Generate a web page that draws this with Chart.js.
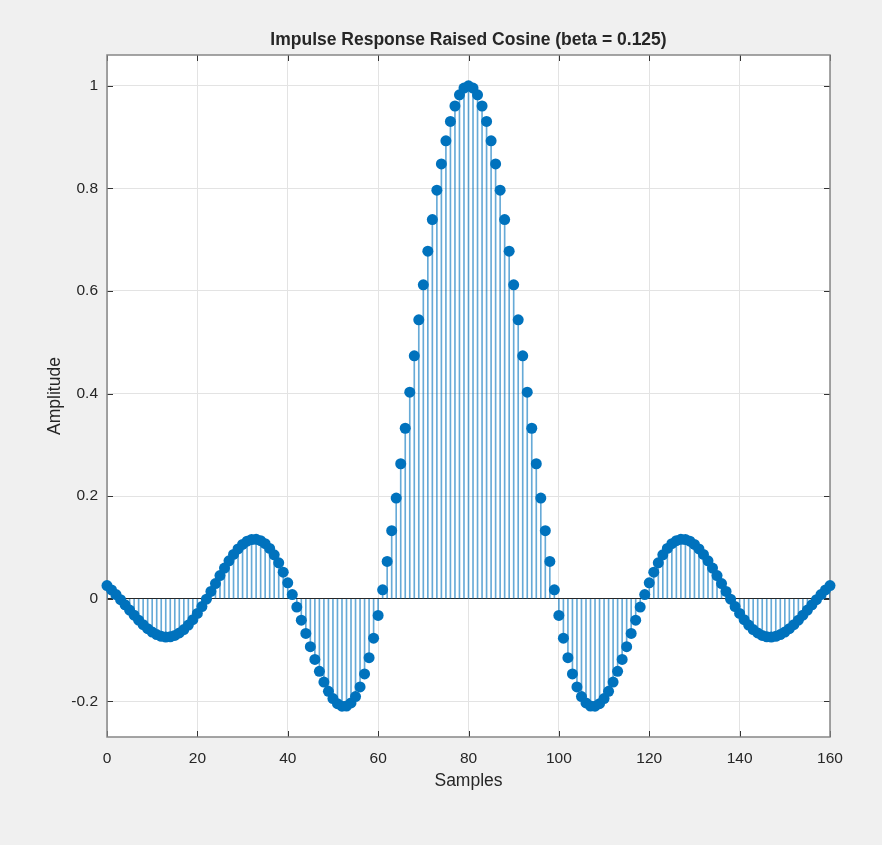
<!DOCTYPE html>
<html>
<head>
<meta charset="utf-8">
<title>Impulse Response Raised Cosine</title>
<script src="https://cdn.jsdelivr.net/npm/chart.js@4.4.1/dist/chart.umd.min.js"></script>
<style>
    html, body { margin: 0; padding: 0; background: #f0f0f0; }
    #wrap { width: 882px; height: 845px; }
</style>
</head>
<body>
<div id="wrap"><canvas id="myChart" width="882" height="845"></canvas></div>
<script>
// sample index (x) and amplitude
let samples = [
    0, 1, 2, 3, 4, 5, 6, 7, 8, 9, 10, 11, 12, 13, 14, 15, 16, 17, 18, 19,
    20, 21, 22, 23, 24, 25, 26, 27, 28, 29, 30, 31, 32, 33, 34, 35, 36, 37, 38, 39,
    40, 41, 42, 43, 44, 45, 46, 47, 48, 49, 50, 51, 52, 53, 54, 55, 56, 57, 58, 59,
    60, 61, 62, 63, 64, 65, 66, 67, 68, 69, 70, 71, 72, 73, 74, 75, 76, 77, 78, 79,
    80, 81, 82, 83, 84, 85, 86, 87, 88, 89, 90, 91, 92, 93, 94, 95, 96, 97, 98, 99,
    100, 101, 102, 103, 104, 105, 106, 107, 108, 109, 110, 111, 112, 113, 114, 115, 116, 117, 118, 119,
    120, 121, 122, 123, 124, 125, 126, 127, 128, 129, 130, 131, 132, 133, 134, 135, 136, 137, 138, 139,
    140, 141, 142, 143, 144, 145, 146, 147, 148, 149, 150, 151, 152, 153, 154, 155, 156, 157, 158, 159,
    160
];

let amplitude = [
    0.0257, 0.0173, 0.0081, -0.0017, -0.0118, -0.0221, -0.0321, -0.0417, -0.0505, -0.0583,
    -0.0649, -0.0699, -0.0732, -0.0746, -0.0741, -0.0714, -0.0667, -0.0600, -0.0513, -0.0408,
    -0.0287, -0.0153, -0.0009, 0.0143, 0.0297, 0.0451, 0.0599, 0.0739, 0.0864, 0.0972,
    0.1059, 0.1122, 0.1155, 0.1159, 0.1132, 0.1073, 0.0980, 0.0857, 0.0701, 0.0518,
    0.0311, 0.0082, -0.0162, -0.0417, -0.0676, -0.0934, -0.1182, -0.1414, -0.1624, -0.1804,
    -0.1945, -0.2045, -0.2095, -0.2092, -0.2030, -0.1906, -0.1719, -0.1466, -0.1149, -0.0768,
    -0.0325, 0.0175, 0.0727, 0.1327, 0.1963, 0.2632, 0.3324, 0.4027, 0.4736, 0.5437,
    0.6120, 0.6775, 0.7392, 0.7964, 0.8476, 0.8926, 0.9304, 0.9606, 0.9823, 0.9955,
    1.0000,
    0.9955, 0.9823, 0.9606, 0.9304, 0.8926, 0.8476, 0.7964, 0.7392, 0.6775, 0.6120,
    0.5437, 0.4736, 0.4027, 0.3324, 0.2632, 0.1963, 0.1327, 0.0727, 0.0175, -0.0325,
    -0.0768, -0.1149, -0.1466, -0.1719, -0.1906, -0.2030, -0.2092, -0.2095, -0.2045, -0.1945,
    -0.1804, -0.1624, -0.1414, -0.1182, -0.0934, -0.0676, -0.0417, -0.0162, 0.0082, 0.0311,
    0.0518, 0.0701, 0.0857, 0.0980, 0.1073, 0.1132, 0.1159, 0.1155, 0.1122, 0.1059,
    0.0972, 0.0864, 0.0739, 0.0599, 0.0451, 0.0297, 0.0143, -0.0009, -0.0153, -0.0287,
    -0.0408, -0.0513, -0.0600, -0.0667, -0.0714, -0.0741, -0.0746, -0.0732, -0.0699, -0.0649,
    -0.0583, -0.0505, -0.0417, -0.0321, -0.0221, -0.0118, -0.0017, 0.0081, 0.0173, 0.0257
];

let xTicks = [0, 20, 40, 60, 80, 100, 120, 140, 160];
let yTicks = [-0.2, 0, 0.2, 0.4, 0.6, 0.8, 1];

let titleText = 'Impulse Response Raised Cosine (beta = 0.125)';
let xLabel = 'Samples';
let yLabel = 'Amplitude';

let blue = '#0072BD';
let textColor = '#262626';
let fontFamily = 'Arial, "Liberation Sans", Helvetica, sans-serif';

Chart.defaults.font.family = fontFamily;
Chart.defaults.color = textColor;

// matlab look: grey figure, white axes, box with inward ticks
let matlabAxes = {
    id: 'matlabAxes',
    beforeDraw(chart) {
        let ctx = chart.ctx;
        let a = chart.chartArea;
        ctx.save();
        ctx.fillStyle = '#f0f0f0';
        ctx.fillRect(0, 0, chart.width, chart.height);
        ctx.fillStyle = '#ffffff';
        ctx.fillRect(a.left, a.top, a.right - a.left, a.bottom - a.top);
        ctx.restore();
    },
    beforeDatasetsDraw(chart) {
        let ctx = chart.ctx;
        let a = chart.chartArea;
        let xs = chart.scales.x;
        let ys = chart.scales.y;
        let len = 6;
        ctx.save();
        ctx.strokeStyle = '#333333';
        ctx.lineWidth = 1;
        ctx.beginPath();
        for (let i = 0; i < xTicks.length; i++) {
            let px = Math.round(xs.getPixelForValue(xTicks[i])) + 0.5;
            ctx.moveTo(px, a.bottom);
            ctx.lineTo(px, a.bottom - len);
            ctx.moveTo(px, a.top);
            ctx.lineTo(px, a.top + len);
        }
        for (let i = 0; i < yTicks.length; i++) {
            let py = Math.round(ys.getPixelForValue(yTicks[i])) + 0.5;
            ctx.moveTo(a.left, py);
            ctx.lineTo(a.left + len, py);
            ctx.moveTo(a.right, py);
            ctx.lineTo(a.right - len, py);
        }
        ctx.stroke();
        ctx.strokeStyle = '#868686';
        ctx.lineWidth = 1.5;
        ctx.strokeRect(a.left, a.top, a.right - a.left, a.bottom - a.top);
        ctx.restore();
    }
};

let stemPoints = [];
for (let i = 0; i < samples.length; i++) {
    stemPoints.push({ x: samples[i], y: amplitude[i] });
}

let ctx = document.getElementById('myChart').getContext('2d');

new Chart(ctx, {
    data: {
        datasets: [{
            type: 'line',
            label: 'markers',
            data: stemPoints,
            showLine: false,
            pointRadius: 5.5,
            pointHoverRadius: 5.5,
            pointBorderWidth: 0,
            pointBackgroundColor: blue,
            clip: false,
            order: 0
        }, {
            type: 'bar',
            label: 'stems',
            data: stemPoints,
            barThickness: 1,
            borderWidth: 0,
            backgroundColor: 'rgba(0, 114, 189, 0.6)',
            order: 1
        }]
    },
    options: {
        responsive: false,
        animation: false,
        layout: { padding: { top: 0, left: 0, right: 52, bottom: 0 } },
        plugins: {
            legend: { display: false },
            tooltip: { enabled: false },
            title: {
                display: true,
                text: titleText,
                fullSize: false,
                color: textColor,
                font: { size: 17.5, weight: 'bold' },
                padding: { top: 30, bottom: 4 }
            }
        },
        scales: {
            x: {
                type: 'linear',
                min: 0,
                max: 160,
                offset: false,
                afterBuildTicks: s => { s.ticks = xTicks.map(v => ({ value: v })); },
                afterFit: s => { s.height = 108; },
                grid: { color: '#e3e3e3', drawTicks: false, offset: false },
                border: { display: false },
                ticks: {
                    padding: 12,
                    maxRotation: 0,
                    autoSkip: false,
                    color: textColor,
                    font: { size: 15.5 },
                    callback: v => String(v)
                },
                title: {
                    display: true,
                    text: xLabel,
                    color: textColor,
                    font: { size: 17.5 },
                    padding: { top: 0, bottom: 53 }
                }
            },
            y: {
                type: 'linear',
                min: -0.2695,
                max: 1.06,
                afterBuildTicks: s => { s.ticks = yTicks.map(v => ({ value: v })); },
                afterFit: s => { s.width = 107; },
                grid: {
                    color: c => (c.tick && c.tick.value === 0) ? '#262626' : '#e3e3e3',
                    drawTicks: false
                },
                border: { display: false },
                ticks: {
                    padding: 9,
                    autoSkip: false,
                    color: textColor,
                    font: { size: 15.5 },
                    callback: v => String(v)
                },
                title: {
                    display: true,
                    text: yLabel,
                    color: textColor,
                    font: { size: 17.5 },
                    padding: { top: 45, bottom: 0 }
                }
            }
        }
    },
    plugins: [matlabAxes]
});
</script>
</body>
</html>
